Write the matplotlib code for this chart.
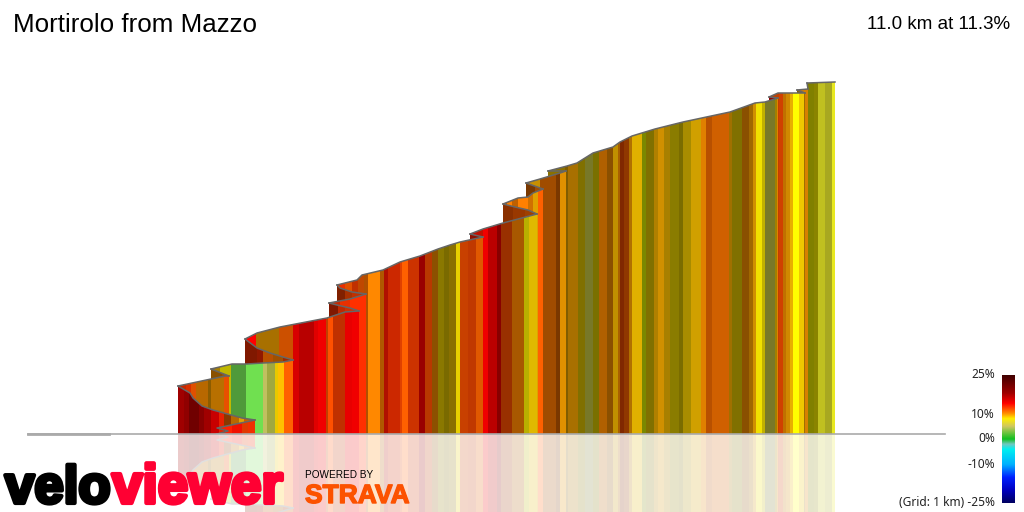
import matplotlib
matplotlib.use("Agg")
import matplotlib.pyplot as plt
import matplotlib.patheffects as pe
from matplotlib.colors import LinearSegmentedColormap
from matplotlib.patches import Polygon
import numpy as np

# road profile, climbing in sections that fold back at each hairpin.
section_dist = [
    [217, 228, 217, 255],
    [255, 242, 213, 202, 193, 190, 178],
    [178, 211, 225, 229],
    [229, 211],
    [211, 232, 247, 263, 283, 293],
    [293, 283, 270, 257, 245],
    [245, 257, 280, 327, 345, 359],
    [359, 350, 337, 329],
    [329, 350, 366],
    [366, 352, 340, 337],
    [337, 357, 362, 383, 400, 420, 438, 450, 460, 483],
    [483, 470],
    [470, 483, 503, 537],
    [537, 528, 515, 503],
    [503, 518, 528, 533, 543],
    [543, 526],
    [526, 540, 560, 566],
    [566, 548],
    [548, 567, 577, 593, 613, 620, 632, 655, 683, 730, 755, 765, 778],
    [778, 769],
    [769, 778, 805],
    [805, 797],
    [797, 808],
    [808, 807],
    [807, 835],
]
section_height = [
    [0, 3, 6, 14],
    [14, 16, 24, 28, 36, 41, 48],
    [48, 55, 58, 58],
    [58, 65],
    [65, 70, 70, 71, 72, 74],
    [74, 77, 81, 86, 95],
    [95, 101, 107, 116, 122, 123],
    [123, 126, 129, 131],
    [131, 135, 140],
    [140, 142, 146, 149],
    [149, 154, 159, 164, 172, 178, 185, 189, 192, 197],
    [197, 200],
    [200, 205, 211, 220],
    [220, 224, 227, 230],
    [230, 236, 237, 241, 245],
    [245, 251],
    [251, 255, 261, 263],
    [263, 263],
    [263, 268, 271, 281, 287, 292, 298, 305, 312, 322, 331, 332, 336],
    [336, 337],
    [337, 341, 341],
    [341, 344],
    [344, 345],
    [345, 351],
    [351, 352],
]

# colour stripes of each section, edges along the distance scale
stripe_edges = [
    [216, 232, 242, 248, 256],
    [178, 184, 189, 199, 204, 211, 219, 224, 231, 239, 244, 256],
    [178, 186, 191, 196, 208, 211, 224, 229],
    [211, 222, 229],
    [211, 220, 231, 246, 263, 267, 275, 278, 284, 293],
    [244, 257, 263, 273, 283, 293],
    [244, 256, 279, 293, 299, 314, 318, 326, 328, 333, 345, 352, 360],
    [329, 338, 345, 360],
    [329, 340, 350, 366],
    [337, 345, 352, 366],
    [337, 345, 352, 358, 364, 368, 380, 384, 388, 400, 402, 408, 419, 425, 432,
     438, 444, 449, 456, 460, 468, 476, 483],
    [470, 483],
    [470, 483, 488, 497, 501, 512, 524, 529, 537],
    [503, 513, 525, 537],
    [503, 507, 512, 518, 528, 533, 538, 543],
    [526, 535, 543],
    [526, 530, 540, 556, 560, 566],
    [548, 566],
    [548, 556, 565, 568, 578, 585, 593, 599, 607, 613, 618, 620, 624, 629, 632,
     642, 646, 654, 658, 664, 670, 679, 683, 691, 701, 706, 712, 729, 732, 742,
     749, 753, 756, 762, 765, 775, 777, 779],
    [769, 779],
    [769, 779, 783, 786, 790, 793, 799, 804, 806],
    [797, 806],
    [797, 808],
    [806, 808],
    [807, 814, 818, 825, 832, 835],
]
stripe_colours = [
    ["#ff2000", "#f01000", "#e03800", "#f03000"],
    ["#a00000", "#900000", "#700000", "#880000", "#a00000", "#c80000", "#e82000",
     "#8a3800", "#b86800", "#e0a000", "#c86000"],
    ["#c82800", "#d83000", "#e05000", "#b86800", "#8c5c00", "#b87000", "#e85000"],
    ["#8a5000", "#a05000"],
    ["#a88000", "#c0b800", "#4f9a3a", "#70e050", "#c0c060", "#a0a840", "#e8c800",
     "#ffc000", "#ff6000"],
    ["#801800", "#901800", "#b85000", "#a05000", "#a02800"],
    ["#ff0000", "#a87000", "#cc5000", "#d80000", "#b80000", "#e00000", "#f00000",
     "#c04000", "#ff5000", "#c03000", "#e80000", "#f00000"],
    ["#801800", "#c02800", "#d03000"],
    ["#c82800", "#e83000", "#ff3000"],
    ["#802000", "#a83000", "#c03000"],
    ["#e83000", "#e05000", "#c03000", "#c04800", "#b05000", "#ff8800", "#b05800",
     "#b01000", "#cc2800", "#e04000", "#ff6000", "#cc3300", "#990000",
     "#b83800", "#8c5000", "#8a7800", "#7a6a00", "#8a7000", "#e8d000", "#c84000",
     "#c03800", "#e05800"],
    ["#901000"],
    ["#c01000", "#f00000", "#bb0000", "#880000", "#993000", "#a85800", "#b8b000",
     "#e0b800"],
    ["#8a3000", "#993800", "#a04000"],
    ["#c05000", "#ff8000", "#c06000", "#ff8000", "#d07000", "#e0a000", "#ff6000"],
    ["#7a3800", "#a04c00"],
    ["#c08000", "#c89000", "#a04c00", "#7a3800", "#e09000"],
    ["#8a7000"],
    ["#908800", "#8a7000", "#805c00", "#a87000", "#807000", "#787828", "#7a7000",
     "#b06000", "#8a5000", "#c09000", "#a86000", "#802800", "#903800", "#b07000",
     "#e0b000", "#7a8800", "#807000", "#b08000", "#d09000", "#a88000", "#8a7c00",
     "#7a6c00", "#a88c00", "#d0a000", "#e08000", "#b85000", "#d06000", "#a07000",
     "#807000", "#8a5000", "#a06800", "#d09000", "#f0e000", "#c0b000", "#787828",
     "#a08000", "#e08000"],
    ["#900000"],
    ["#c04000", "#d04000", "#c07000", "#d08800", "#e8b000", "#ffff00", "#f0c800",
     "#a07000"],
    ["#8a6000"],
    ["#d88000"],
    ["#808000"],
    ["#808000", "#8a8400", "#c0c020", "#a8a820", "#e8e820"],
]

# colour scale at the right
scale_grades = [25, 18, 14, 10, 8, 5, 0, -2, -4, -10, -15, -20, -25]
scale_colours = ["#400000", "#a00000", "#ff0000", "#ff9000", "#ffee00", "#d0c860",
                 "#10c020", "#70c8c0", "#00f0f0", "#00b0ff", "#0020ff", "#0000c0",
                 "#000060"]
scale_ticks = ["25%", "10%", "0%", "-10%", "(Grid: 1 km) -25%"]

SANS = "Liberation Sans"
LABEL = "Noto Sans"


def draw_section(ax, dist, height, edges, colours, order, sign=1):
    """Draw one section as stripes cut off by its road line."""
    outline = [(d, sign * h) for d, h in zip(dist, height)]
    outline += [(dist[-1], 0), (dist[0], 0)]
    clip = Polygon(outline, closed=True, transform=ax.transData)
    lefts = np.array(edges[:-1])
    widths = np.diff(edges)
    bars = ax.bar(lefts, [sign * 400] * len(lefts), widths, align="edge", color=colours,
                  linewidth=0, antialiased=False, zorder=order)
    for bar in bars:
        bar.set_clip_path(clip)
    ax.plot(dist, [sign * h for h in height], color="#666666", lw=1.1, zorder=order + 0.5)


fig = plt.figure(figsize=(10.24, 5.12), dpi=100)
ax = fig.add_axes([0, 0, 1, 1])
ax.set_xlim(0, 1024)
ax.set_ylim(-78, 434)
ax.axis("off")

# nearest section goes on top, so draw from the top of the climb down
n = len(section_dist)
for i in range(n):
    order = 10 + (n - i)
    draw_section(ax, section_dist[i], section_height[i], stripe_edges[i],
                 stripe_colours[i], order)
    draw_section(ax, section_dist[i], section_height[i], stripe_edges[i],
                 stripe_colours[i], order, sign=-1)

# wash out the mirrored part
ax.fill_between([0, 1024], -78, 0, color="white", alpha=0.8, lw=0, zorder=50)

# base line
ax.plot([28, 945], [0, 0], color="#aaaaaa", lw=1.2, zorder=51)
ax.plot([28, 109], [0, 0], color="#aaaaaa", lw=2.0, zorder=51)

# titles
ax.text(13, 402, "Mortirolo from Mazzo", family=SANS, fontsize=18.7, color="black",
        ha="left", va="baseline", zorder=60)
ax.text(1010, 405, "11.0 km at 11.3%", family=SANS, fontsize=13.5, color="black",
        ha="right", va="baseline", zorder=60)

# colour scale
scale_ax = fig.add_axes([1002 / 1024, 9 / 512, 13 / 1024, 128 / 512])
cmap = LinearSegmentedColormap.from_list(
    "grade", [((g + 25) / 50, c) for g, c in sorted(zip(scale_grades, scale_colours))])
ramp = np.linspace(1, 0, 256).reshape(-1, 1)
scale_ax.imshow(ramp, cmap=cmap, aspect="auto", vmin=0, vmax=1)
scale_ax.axis("off")
tick_y = [59, 20, -5, -31, -69]
for label, y in zip(scale_ticks, tick_y):
    ax.text(995, y, label, family=LABEL, fontsize=8.6, color="#222222",
            ha="right", va="center", zorder=60)

# logos
ax.text(5, -69, "velo", family=SANS, weight="bold", fontsize=38,
        color="black", ha="left", va="baseline", zorder=60,
        path_effects=[pe.withStroke(linewidth=3, foreground="black")])
ax.text(112, -69, "viewer", family=SANS, weight="bold", fontsize=39.5,
        color="#ff0033", ha="left", va="baseline", zorder=60,
        path_effects=[pe.withStroke(linewidth=3, foreground="#ff0033")])
ax.text(305, -44, "POWERED BY", family=SANS, fontsize=7.2, color="black",
        ha="left", va="baseline", zorder=60)
ax.text(305, -69, "STRAVA", family=SANS, weight="bold", fontsize=19, color="#fc5200",
        ha="left", va="baseline", zorder=60,
        path_effects=[pe.withStroke(linewidth=1.0, foreground="#fc5200")])

fig.savefig("out.png", dpi=100)
